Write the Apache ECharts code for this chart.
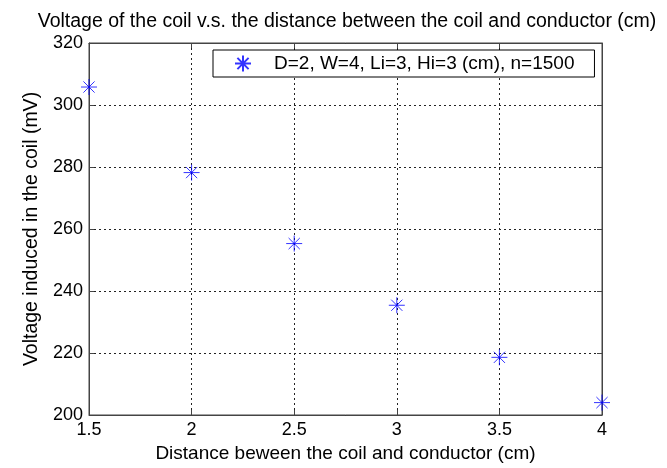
<!DOCTYPE html>
<html>
<head>
<meta charset="utf-8">
<script src="https://cdn.jsdelivr.net/npm/echarts@6/dist/echarts.min.js"></script>
<style>
  html, body { margin: 0; padding: 0; background: #fff; }
  #chart { width: 667px; height: 468px; }
</style>
</head>
<body>
<div id="chart"></div>
<script>
// distance (cm) vs induced voltage (mV)
var distances = [1.5, 2, 2.5, 3, 3.5, 4];
var voltages = [305.8, 278.2, 255.3, 235.4, 218.6, 204.0];
var seriesName = 'D=2, W=4, Li=3, Hi=3 (cm), n=1500';

var font = 'Liberation Sans, Arial, sans-serif';
var star = 'path://M0,-10L0,10M-10,0L10,0M-7,-7L7,7M-7,7L7,-7';

var chart = echarts.init(document.getElementById('chart'));

var points = [];
for (var i = 0; i < distances.length; i++) {
    points.push([distances[i], voltages[i]]);
}

var dotted = { show: true, lineStyle: { color: '#222', type: [2, 3], width: 1 } };
var frameLine = { show: true, lineStyle: { color: '#444' } };
var frameTick = { show: true, inside: true, length: 5, lineStyle: { color: '#444' } };

var option = {
    backgroundColor: '#fff',
    animation: false,
    title: {
        text: 'Voltage of the coil v.s. the distance between the coil and conductor (cm)',
        left: 347,
        top: 12,
        padding: 0,
        textAlign: 'center',
        textStyle: { fontFamily: font, fontSize: 19.5, fontWeight: 'normal', color: '#000' }
    },
    legend: {
        left: 213,
        top: 50,
        padding: [4, 20, 4, 21],
        borderColor: '#000',
        borderWidth: 1,
        borderRadius: 0,
        backgroundColor: '#fff',
        itemWidth: 16,
        itemHeight: 16,
        textStyle: { fontFamily: font, fontSize: 19, color: '#000', padding: [0, 0, 0, 18] },
        data: [{ name: seriesName, icon: star }]
    },
    grid: {
        left: 89, right: 65, top: 43, bottom: 50,
        show: true, borderColor: '#444', borderWidth: 1
    },
    xAxis: [{
        type: 'value',
        min: 1.5, max: 4, interval: 0.5,
        name: 'Distance beween the coil and conductor (cm)',
        nameLocation: 'middle',
        nameGap: 29,
        nameTextStyle: { fontFamily: font, fontSize: 19, color: '#000' },
        axisLine: frameLine,
        axisTick: frameTick,
        axisLabel: { fontFamily: font, fontSize: 18, color: '#000', margin: 6 },
        splitLine: dotted
    }, {
        type: 'value', position: 'top',
        min: 1.5, max: 4, interval: 0.5,
        axisLine: frameLine,
        axisTick: frameTick,
        axisLabel: { show: false },
        splitLine: { show: false }
    }],
    yAxis: [{
        type: 'value',
        min: 200, max: 320, interval: 20,
        name: 'Voltage induced in the coil (mV)',
        nameLocation: 'middle',
        nameGap: 47,
        nameTextStyle: { fontFamily: font, fontSize: 19.5, color: '#000' },
        axisLine: frameLine,
        axisTick: frameTick,
        axisLabel: { fontFamily: font, fontSize: 18, color: '#000', margin: 6 },
        splitLine: dotted
    }, {
        type: 'value', position: 'right',
        min: 200, max: 320, interval: 20,
        axisLine: frameLine,
        axisTick: frameTick,
        axisLabel: { show: false },
        splitLine: { show: false }
    }],
    series: [{
        name: seriesName,
        type: 'scatter',
        data: points,
        symbol: star,
        symbolSize: 16,
        itemStyle: { color: '#0000ff', borderColor: '#0000ff', borderWidth: 1 }
    }]
};

chart.setOption(option);
</script>
</body>
</html>
